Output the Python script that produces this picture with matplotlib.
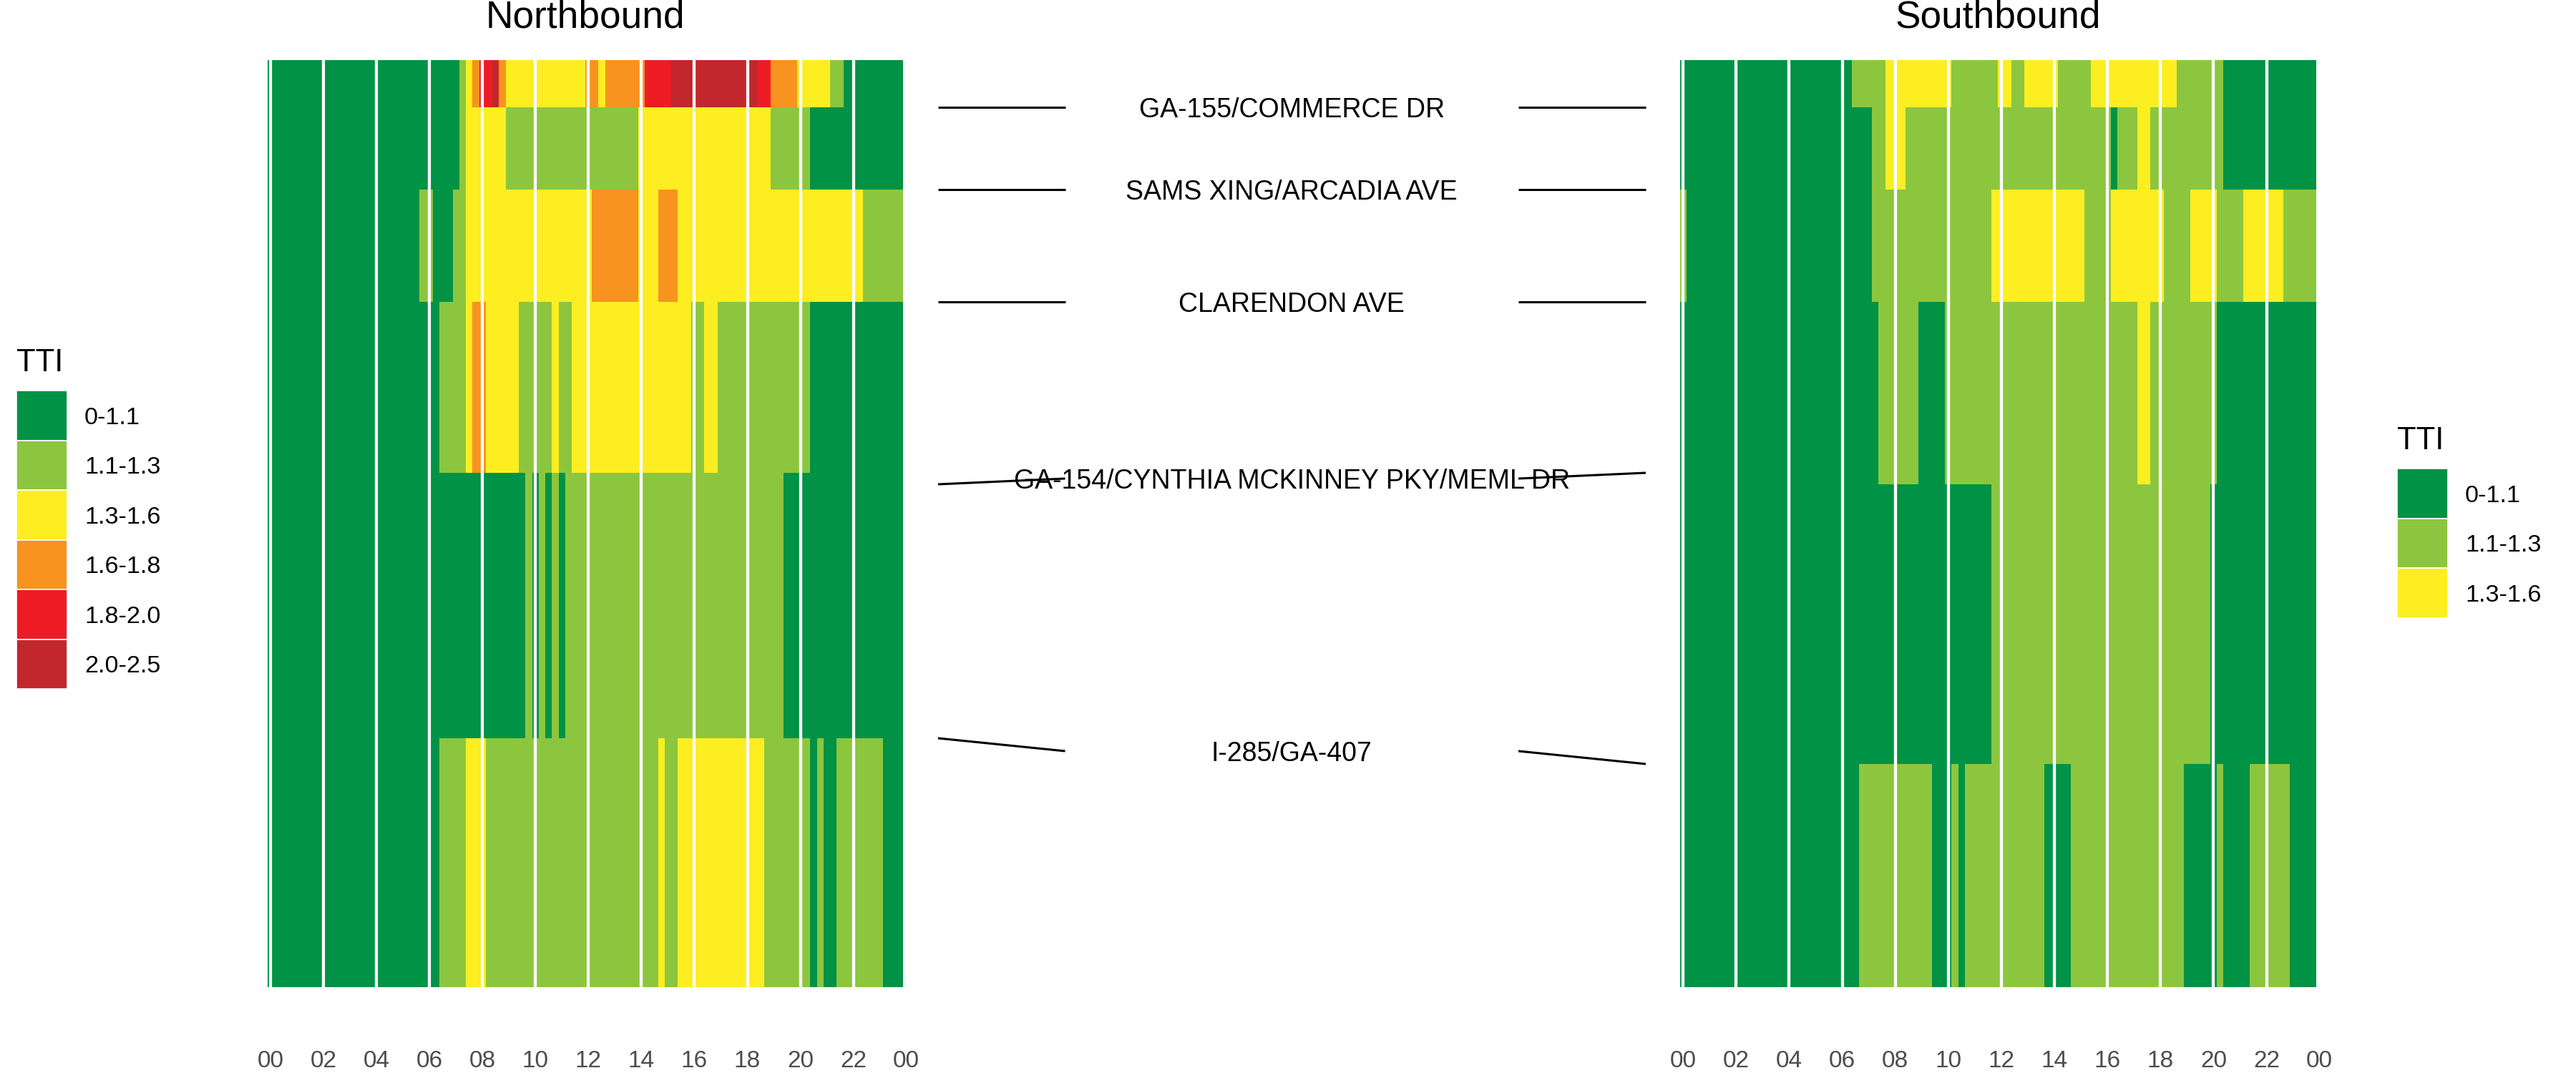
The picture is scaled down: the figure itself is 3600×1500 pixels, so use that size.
import numpy as np
import matplotlib
matplotlib.use("Agg")
import matplotlib.pyplot as plt
from matplotlib.colors import ListedColormap, BoundaryNorm
from matplotlib.patches import Rectangle
import matplotlib.transforms as mtransforms

plt.rcParams['font.family'] = ['Liberation Sans', 'DejaVu Sans']

# ---------------- data ----------------
tti_labels = ["0-1.1", "1.1-1.3", "1.3-1.6", "1.6-1.8", "1.8-2.0", "2.0-2.5"]
tti_colors = ["#009245", "#8CC63F", "#FCEE21", "#F7931E", "#ED1C24", "#C1272D"]

# 15-minute bins (centres, hours)
time_bins = np.arange(96) * 0.25
tick_hours = [0, 2, 4, 6, 8, 10, 12, 14, 16, 18, 20, 22, 24]
tick_labels = ["00", "02", "04", "06", "08", "10", "12", "14", "16", "18", "20", "22", "00"]

# segment lengths (miles), top to bottom
nb_seg_len = [0.33, 0.575, 0.785, 1.195, 1.855, 1.74]
sb_seg_len = [0.33, 0.575, 0.785, 1.275, 1.955, 1.56]

cross_streets = ["GA-155/COMMERCE DR", "SAMS XING/ARCADIA AVE", "CLARENDON AVE",
                 "GA-154/CYNTHIA MCKINNEY PKY/MEML DR", "I-285/GA-407"]
street_left_dir = ["NB", "NB", "NB", "SB", "NB"]
street_right_dir = ["SB", "SB", "SB", "NB", "SB"]

# TTI category per 15-min bin (0..5 -> tti_labels); one string per segment, 8 bins per group
northbound = [
    "00000000 00000000 00000000 00000123 44532222 22222222 33233333 34444555 55555555 55443333 22222110 00000000",
    "00000000 00000000 00000000 00000122 22221111 11111111 11111111 22222222 22222222 22221111 11000000 00000000",
    "00000000 00000000 00000001 10001122 22222222 22222222 23333333 22233322 22222222 22222222 22222222 22111111",
    "00000000 00000000 00000000 00111123 32222211 11121122 22222222 22222222 11221111 11111111 11000000 00000000",
    "00000000 00000000 00000000 00000000 00000001 01010111 11111111 11111111 11111111 11111100 00000000 00000000",
    "00000000 00000000 00000000 00111122 21111111 11111111 11111111 11121122 22222222 22211111 11010011 11111000",
]
southbound = [
    "00000000 00000000 00000000 00111112 22222222 21111111 22112222 21111122 22222222 22211111 11000000 00000000",
    "00000000 00000000 00000000 00000112 22111111 11111111 11111111 11111111 10111221 11111111 11000000 00000000",
    "10000000 00000000 00000000 00000111 11111111 11111112 22222222 22222111 12222222 21111222 21111222 22211111",
    "00000000 00000000 00000000 00000011 11110000 11111111 11111111 11111111 11111221 11111111 10000000 00000000",
    "00000000 00000000 00000000 00000000 00000000 00000001 11111111 11111111 11111111 11111111 00000000 00000000",
    "00000000 00000000 00000000 00011111 11111100 01011111 11111110 00011111 11111111 11110000 01000011 11110000",
]

# ---------------- figure ----------------
W, H = 3600, 1500
fig = plt.figure(figsize=(18, 7.5), dpi=200)

def fx(px):
    return px / W

def fy(py):
    return 1 - py / H

cmap = ListedColormap(tti_colors)
norm = BoundaryNorm(np.arange(-0.5, len(tti_colors) + 0.5, 1), cmap.N)

top_px, bot_px = 84, 1380
nb_ax = fig.add_axes([fx(373.5), fy(bot_px), fx(1262 - 373.5), (bot_px - top_px) / H])
sb_ax = fig.add_axes([fx(2347.5), fy(bot_px), fx(3237 - 2347.5), (bot_px - top_px) / H])
mid_ax = fig.add_axes([fx(1262), fy(bot_px), fx(2347.5 - 1262), (bot_px - top_px) / H])


def draw_panel(ax, rows, seg_len, title):
    Z = np.array([[int(c) for c in r.replace(" ", "")] for r in rows])
    xedges = np.concatenate([time_bins - 0.125, [time_bins[-1] + 0.125]])
    yedges = np.concatenate([[0.0], np.cumsum(seg_len)])
    ax.pcolormesh(xedges, yedges, Z, cmap=cmap, norm=norm, shading='flat',
                  edgecolors='none', antialiased=False, zorder=1)
    ax.set_xlim(xedges[0], xedges[-1])
    ax.set_ylim(yedges[-1], 0)
    for h in tick_hours[:-1]:
        ax.axvline(h, color='white', lw=1.55, zorder=3)
    ax.axis('off')
    trans = mtransforms.blended_transform_factory(ax.transData, ax.transAxes)
    for h, lab in zip(tick_hours, tick_labels):
        ax.text(h, -(1492 - bot_px) / (bot_px - top_px), lab, transform=trans,
                ha='center', va='baseline', fontsize=12, color='#4D4D4D', clip_on=False)
    ax.text(0.5, 1 + (top_px - 39) / (bot_px - top_px), title, transform=ax.transAxes,
            ha='center', va='baseline', fontsize=19.2, color='black')


draw_panel(nb_ax, northbound, nb_seg_len, "Northbound")
draw_panel(sb_ax, southbound, sb_seg_len, "Southbound")

# middle: cross-street labels and connector lines
nb_bounds = np.cumsum(nb_seg_len)[:-1]
sb_bounds = np.cumsum(sb_seg_len)[:-1]
mid_ax.set_xlim(0, 1)
mid_ax.set_ylim(sum(nb_seg_len), 0)
mid_ax.axis('off')
for i, name in enumerate(cross_streets):
    yl = nb_bounds[i] if street_left_dir[i] == "NB" else sb_bounds[i]
    yr = nb_bounds[i] if street_right_dir[i] == "NB" else sb_bounds[i]
    ym = (yl + yr) / 2
    mid_ax.plot([0.0451, 0.2087], [yl, ym], color='black', lw=1.1, solid_capstyle='butt')
    mid_ax.plot([0.7923, 0.9562], [ym, yr], color='black', lw=1.1, solid_capstyle='butt')
    mid_ax.text(0.5005, ym, name, ha='center', va='center_baseline', fontsize=13.5, color='black')


# legends
def draw_legend(x_left, key_top, n, title_base):
    kw, kh = 71, 69.5
    fig.text(fx(x_left), fy(title_base), "TTI", ha='left', va='baseline', fontsize=15.7)
    for i in range(n):
        y0 = key_top + i * kh
        fig.add_artist(Rectangle((fx(x_left), fy(y0 + kh)), kw / W, kh / H,
                                 transform=fig.transFigure, facecolor=tti_colors[i],
                                 edgecolor='white', lw=0.6))
        fig.text(fx(x_left + 95), fy(y0 + kh / 2), tti_labels[i], ha='left',
                 va='center_baseline', fontsize=12.3)


draw_legend(23, 546, 6, 519)
draw_legend(3350, 655, 3, 628)

fig.savefig("out.png", dpi=200, facecolor='white')
